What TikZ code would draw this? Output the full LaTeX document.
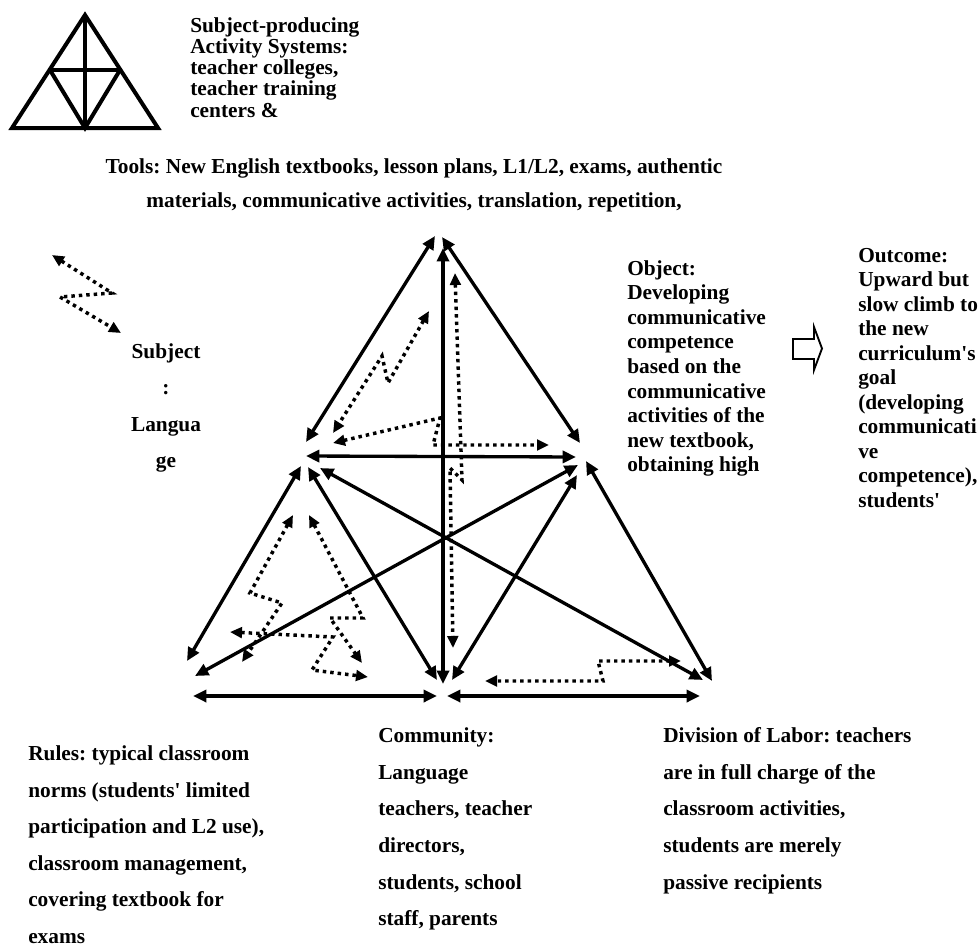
\documentclass[tikz,border=0pt]{standalone}
\usepackage{fontspec}
\setmainfont{Liberation Serif}
\usetikzlibrary{arrows.meta}
\frenchspacing
\newcommand{\sq}{\textquotesingle}
\begin{document}
\begin{tikzpicture}[x=0.75pt,y=-0.75pt,
  txt/.style={font=\bfseries\fontsize{16}{19}\selectfont, inner sep=0pt, anchor=base west},
  txtc/.style={txt, anchor=base},
  sarr/.style={line width=2.5pt, {Triangle[length=10pt,width=9pt]}-{Triangle[length=10pt,width=9pt]}},
  darr/.style={line width=2.6pt, dash pattern=on 2.6pt off 3pt, {Triangle[length=9pt,width=8pt]}-{Triangle[length=9pt,width=8pt]}},
  icon/.style={line width=3pt, line join=miter},
  blockarrow/.style={line width=1.4pt, line join=miter}
]
\clip (0,0) rectangle (979,946);

% ---- small triangle icon
\coordinate (ia) at (85,15);
\coordinate (ibl) at (12,128);
\coordinate (ibr) at (158,128);
\coordinate (iml) at (50,70);
\coordinate (imr) at (120,70);
\coordinate (ibm) at (85,128);
\draw[icon] (ia) -- (ibl) -- (ibr) -- cycle;
\draw[icon] (iml) -- (imr);
\draw[icon] (ia) -- (ibm);
\draw[icon] (iml) -- (ibm) -- (imr);

% ---- solid connectors (end points around the six corners)
\coordinate (tL) at (435,236);  \coordinate (lT) at (306,442);
\coordinate (tR) at (442,237);  \coordinate (rT) at (580,443);
\coordinate (vT) at (443,248);  \coordinate (vB) at (443,684);
\coordinate (hL) at (306,456);  \coordinate (hR) at (576,457);
\coordinate (lBL) at (301,466); \coordinate (blL) at (187,661);
\coordinate (rBL) at (578,465); \coordinate (blR) at (195,676);
\coordinate (lBM) at (308,467); \coordinate (bmL) at (437,680);
\coordinate (lBR) at (320,468); \coordinate (brL) at (703,680);
\coordinate (rBM) at (577,475); \coordinate (bmR) at (452,680);
\coordinate (rBR) at (586,461); \coordinate (brR) at (712,681);
\coordinate (b1L) at (193,696); \coordinate (b1R) at (437,696);
\coordinate (b2L) at (447,696); \coordinate (b2R) at (700,696);

\draw[sarr] (tL) -- (lT);
\draw[sarr] (tR) -- (rT);
\draw[sarr] (vT) -- (vB);
\draw[sarr] (hL) -- (hR);
\draw[sarr] (lBL) -- (blL);
\draw[sarr] (rBL) -- (blR);
\draw[sarr] (lBM) -- (bmL);
\draw[sarr] (lBR) -- (brL);
\draw[sarr] (rBM) -- (bmR);
\draw[sarr] (rBR) -- (brR);
\draw[sarr] (b1L) -- (b1R);
\draw[sarr] (b2L) -- (b2R);

% ---- dotted connectors
\coordinate (p1a) at (429,311); \coordinate (p1b) at (388,383);
\coordinate (p1c) at (382,356); \coordinate (p1d) at (333,433);
\draw[darr] (p1a) -- (p1b) -- (p1c) -- (p1d);

\coordinate (p2a) at (333,443); \coordinate (p2b) at (440,418);
\coordinate (p2c) at (433,445); \coordinate (p2d) at (549,445);
\draw[darr] (p2a) -- (p2b) -- (p2c) -- (p2d);

\coordinate (p3a) at (455,273); \coordinate (p3b) at (462,480);
\coordinate (p3c) at (450,468); \coordinate (p3d) at (453,648);
\draw[darr] (p3a) -- (p3b) -- (p3c) -- (p3d);

\coordinate (p4a) at (293,515); \coordinate (p4b) at (250,593);
\coordinate (p4c) at (282,603); \coordinate (p4d) at (242,662);
\draw[darr] (p4a) -- (p4b) -- (p4c) -- (p4d);

\coordinate (p5a) at (309,515); \coordinate (p5b) at (363,618);
\coordinate (p5c) at (330,618); \coordinate (p5d) at (362,663);
\draw[darr] (p5a) -- (p5b) -- (p5c) -- (p5d);

\coordinate (p6a) at (230,632); \coordinate (p6b) at (333,637);
\coordinate (p6c) at (312,670); \coordinate (p6d) at (368,677);
\draw[darr] (p6a) -- (p6b) -- (p6c) -- (p6d);

\coordinate (p7a) at (681,661); \coordinate (p7b) at (598,661);
\coordinate (p7c) at (603,681); \coordinate (p7d) at (485,681);
\draw[darr] (p7a) -- (p7b) -- (p7c) -- (p7d);

\coordinate (p8a) at (52,255); \coordinate (p8b) at (112,293);
\coordinate (p8c) at (60,297); \coordinate (p8d) at (121,333);
\draw[darr] (p8a) -- (p8b) -- (p8c) -- (p8d);

% ---- outline block arrow
\draw[blockarrow] (793,339) -- (814,339) -- (814,327) -- (822,348.5) -- (814,370) -- (814,359) -- (793,359) -- cycle;

% ---- texts
\foreach \t [count=\i] in {Subject-producing, Activity Systems:, {teacher colleges,}, teacher training, centers \&}
  \node[txt] (sp\i) at (190, {32+21.33*(\i-1)}) {\t};

\node[txtc] (tools1) at (414,173) {Tools: New English textbooks, lesson plans, L1/L2, exams, authentic};
\node[txtc] (tools2) at (414,207) {materials, communicative activities, translation, repetition,};

\foreach \t [count=\i] in {Subject, :, Langua, ge}
  \node[txtc] (subj\i) at (166, {358+36.6*(\i-1)}) {\t};

\foreach \t [count=\i] in {Object:, Developing, communicative, competence, based on the, communicative, activities of the, {new textbook,}, obtaining high}
  \node[txt] (obj\i) at (627, {275+24.6*(\i-1)}) {\t};

\foreach \t [count=\i] in {Outcome:, Upward but, slow climb to, the new, curriculum\sq s, goal, {(developing}, communicati, ve, {competence),}, students\sq}
  \node[txt] (out\i) at (858, {262+24.5*(\i-1)}) {\t};

\foreach \t [count=\i] in {Rules: typical classroom, {norms (students\sq\ limited}, {participation and L2 use),}, {classroom management,}, covering textbook for, exams}
  \node[txt] (rul\i) at (28, {760.5+36.5*(\i-1)}) {\t};

\foreach \t [count=\i] in {Community:, Language, {teachers, teacher}, {directors,}, {students, school}, {staff, parents}}
  \node[txt] (com\i) at (378, {742.7+36.6*(\i-1)}) {\t};

\foreach \t [count=\i] in {Division of Labor: teachers, are in full charge of the, {classroom activities,}, students are merely, passive recipients}
  \node[txt] (div\i) at (663, {742.7+36.6*(\i-1)}) {\t};
\end{tikzpicture}
\end{document}
